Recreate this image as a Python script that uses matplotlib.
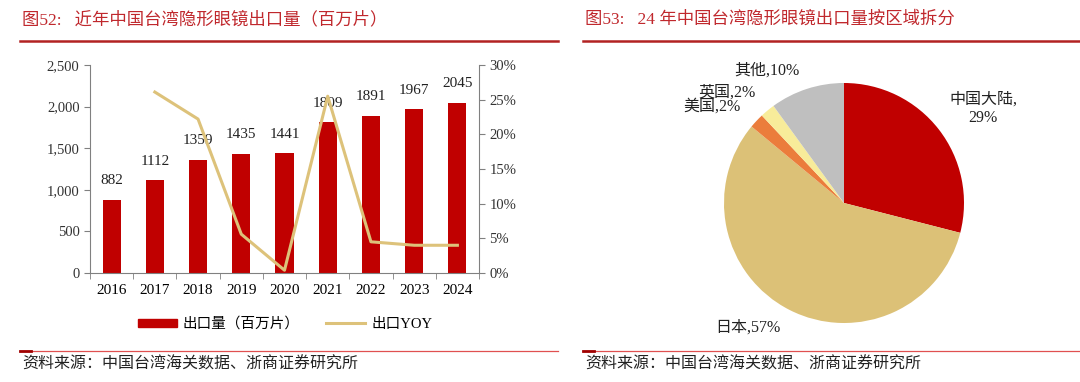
import matplotlib.pyplot as plt
import numpy as np
from matplotlib.lines import Line2D
from matplotlib.patches import Patch

# fonts: Times-like for latin, CJK falls back to Noto
FONTS = ['Liberation Serif', 'Noto Sans CJK SC']
plt.rcParams['font.family'] = FONTS

# ---- data ----
years = ['2016', '2017', '2018', '2019', '2020', '2021', '2022', '2023', '2024']
export_vol = [882, 1112, 1359, 1435, 1441, 1809, 1891, 1967, 2045]
yoy_years = ['2017', '2018', '2019', '2020', '2021', '2022', '2023', '2024']
yoy_pct = [26.1, 22.2, 5.6, 0.4, 25.5, 4.5, 4.0, 4.0]

regions = ['中国大陆', '日本', '美国', '英国', '其他']
shares = [29, 57, 2, 2, 10]
pie_colors = ['#C00000', '#DCC177', '#EB7D3C', '#F8EC9A', '#BFBFBF']

RED = '#C00000'
TAN = '#DDC27A'
TITLE_RED = '#C0282D'
GREY = '#808080'

W, H = 1080, 382
fig = plt.figure(figsize=(W / 100, H / 100), dpi=100)


def fx(px):
    return px / W


def fy(py):
    return 1 - py / H


def panel_frame(x0, x1, title):
    fig.text(fx(x0 + 2), fy(20), title, color=TITLE_RED, fontsize=12.5,
             va='center', ha='left')
    fig.add_artist(Line2D([fx(x0), fx(x1)], [fy(41), fy(41)], color='#B22222', lw=1.8))
    fig.add_artist(Line2D([fx(x0), fx(x1)], [fy(351), fy(351)], color='#E05050', lw=0.9))
    fig.add_artist(Line2D([fx(x0), fx(x0 + 11)], [fy(350.5), fy(350.5)], color='#A00000', lw=2))
    fig.text(fx(x0 + 2), fy(365), '资料来源：中国台湾海关数据、浙商证券研究所', fontsize=11.5,
             va='center', ha='left', color='#222222')


panel_frame(20, 558, '图52:   近年中国台湾隐形眼镜出口量（百万片）')
panel_frame(583, 1080, '图53:   24 年中国台湾隐形眼镜出口量按区域拆分')

# ---- bar + line chart ----
ax = fig.add_axes([fx(90), fy(273), fx(479) - fx(90), fy(65) - fy(273)])
x = np.arange(len(years))
ax.bar(x, export_vol, width=0.42, color=RED, zorder=2)
for xi, v in zip(x, export_vol):
    ax.annotate(str(v), (xi, v), xytext=(0, 9), textcoords='offset points',
                ha='center', va='bottom', fontsize=11, color='#222222')
ax.set_xlim(-0.5, len(years) - 0.5)
ax.set_ylim(0, 2500)
ax.set_yticks(range(0, 2501, 500))
ax.set_yticklabels([f'{v:,}' for v in range(0, 2501, 500)])
ax.set_xticks(x)
ax.set_xticklabels(years)
ax.set_xticks(np.arange(-0.5, len(years), 1), minor=True)
ax.tick_params(axis='x', which='major', length=0, pad=8, labelsize=11)
ax.tick_params(axis='x', which='minor', length=4, color=GREY, direction='out')
ax.tick_params(axis='y', length=4, color=GREY, labelsize=10.5, labelcolor='#333333')
for s in ['top', 'right']:
    ax.spines[s].set_visible(False)
for s in ['left', 'bottom']:
    ax.spines[s].set_color(GREY)

ax2 = ax.twinx()
yoy_x = [years.index(y) for y in yoy_years]
ax2.plot(yoy_x, yoy_pct, color=TAN, lw=2.2, zorder=3)
ax2.set_ylim(0, 30)
ax2.set_yticks(range(0, 31, 5))
ax2.set_yticklabels([f'{v}%' for v in range(0, 31, 5)])
ax2.tick_params(axis='y', length=4, color=GREY, labelsize=10.5, labelcolor='#333333')
for s in ['top', 'left', 'bottom']:
    ax2.spines[s].set_visible(False)
ax2.spines['right'].set_color(GREY)

handles = [Patch(color=RED), Line2D([], [], color=TAN, lw=2.2)]
fig.legend(handles, ['出口量（百万片）', '出口YOY'], loc='center',
           bbox_to_anchor=(fx(285), fy(324)), ncol=2, frameon=False,
           fontsize=10.5, handlelength=2.7, handleheight=0.45, handletextpad=0.4,
           columnspacing=1.8)

# ---- pie chart ----
R = 120
cx, cy = 844, 203
pax = fig.add_axes([fx(cx - R), fy(cy + R), fx(2 * R), fy(cy - R) - fy(cy + R)])
pax.pie(shares, colors=pie_colors, startangle=90, counterclock=False,
        wedgeprops=dict(linewidth=0))
pax.set_xlim(-1, 1)
pax.set_ylim(-1, 1)
pax.set_aspect('equal')

label_pos = [(983, 109), (748, 328), (712, 107), (727, 93), (767, 71)]
for (px, py), name, sh in zip(label_pos, regions, shares):
    txt = f'{name},\n{sh}%' if name == '中国大陆' else f'{name},{sh}%'
    fig.text(fx(px), fy(py), txt, ha='center', va='center', fontsize=11.5,
             color='#222222', linespacing=1.2)

fig.savefig('out.png', dpi=100)
